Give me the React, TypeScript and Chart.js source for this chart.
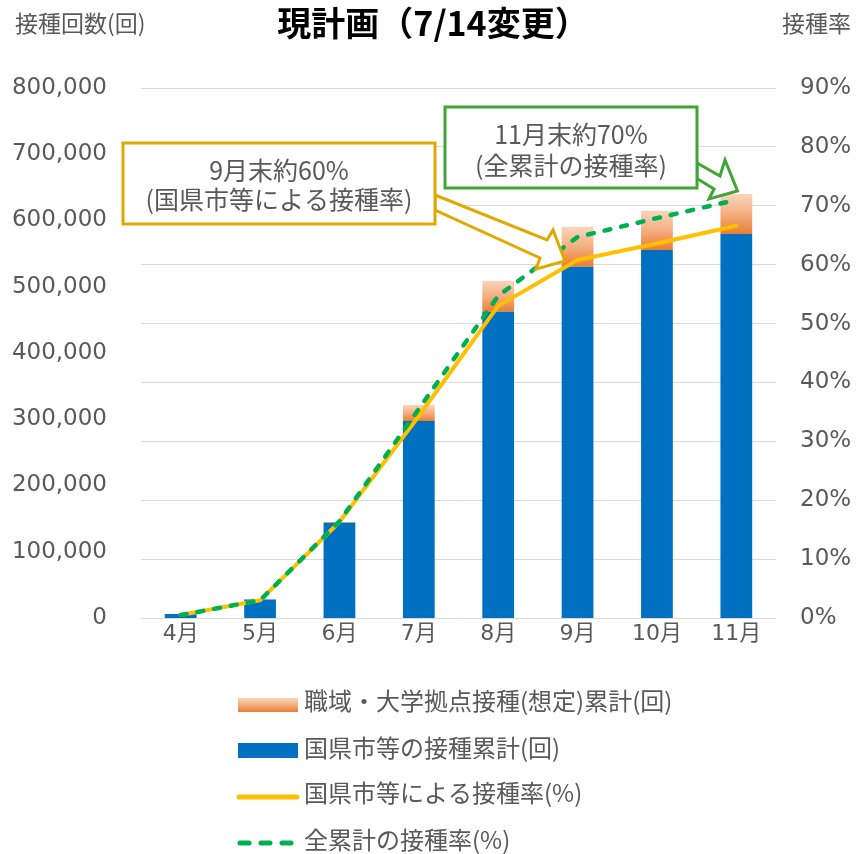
import React, { useEffect, useRef } from 'react';
import { Chart, registerables } from 'chart.js';

Chart.register(...registerables);

// ---------- data ----------
const categories = ['4月', '5月', '6月', '7月', '8月', '9月', '10月', '11月'];
const localCumulative = [6000, 28000, 143800, 297400, 462300, 530300, 555500, 579600];
const workplaceCumulative = [0, 0, 1000, 24100, 46800, 60300, 59300, 60400];
const localRate = [0.5, 3.0, 16.3, 34.3, 53.0, 60.8, 63.6, 66.6];
const totalRate = [0.5, 3.0, 16.4, 35.5, 54.7, 64.7, 67.9, 71.0];

const leftMax = 800000;
const leftStep = 100000;
const rightMax = 90;
const rightStep = 10;

const titleText = '現計画（7/14変更）';
const leftAxisTitle = '接種回数(回)';
const rightAxisTitle = '接種率';
const legendLabels = [
  '職域・大学拠点接種(想定)累計(回)',
  '国県市等の接種累計(回)',
  '国県市等による接種率(%)',
  '全累計の接種率(%)',
];
const calloutYellowLines = ['9月末約60%', '(国県市等による接種率)'];
const calloutGreenLines = ['11月末約70%', '(全累計の接種率)'];

// ---------- styles ----------
const BLUE = '#0070c0';
const YELLOW = '#ffc000';
const GREEN = '#00b050';
const GOLD = '#e0a800';
const BOX_GREEN = '#3fa535';
const TEXT = '#595959';
const GRID = '#d9d9d9';
const CJK = '"Noto Sans CJK JP", sans-serif';
const LATIN = '"DejaVu Sans", "Noto Sans CJK JP", sans-serif';

function orangeGradient(c: CanvasRenderingContext2D, top: number, bottom: number) {
  const g = c.createLinearGradient(0, top, 0, bottom);
  g.addColorStop(0, '#f9d6bd');
  g.addColorStop(0.5, '#f4ae80');
  g.addColorStop(1, '#ed7d31');
  return g;
}

function drawPoly(c: CanvasRenderingContext2D, pts: number[][], stroke: string) {
  c.save();
  c.beginPath();
  c.moveTo(pts[0][0], pts[0][1]);
  for (let i = 1; i < pts.length; i++) c.lineTo(pts[i][0], pts[i][1]);
  c.closePath();
  c.fillStyle = '#ffffff';
  c.fill();
  c.lineWidth = 3;
  c.lineJoin = 'miter';
  c.strokeStyle = stroke;
  c.stroke();
  c.restore();
}

function drawBox(
  c: CanvasRenderingContext2D,
  x: number, y: number, w: number, h: number,
  stroke: string, lines: string[], lineYs: number[]
) {
  c.save();
  c.fillStyle = '#ffffff';
  c.fillRect(x, y, w, h);
  c.lineWidth = 3;
  c.strokeStyle = stroke;
  c.strokeRect(x, y, w, h);
  c.fillStyle = TEXT;
  c.font = `25px ${CJK}`;
  c.textAlign = 'center';
  c.textBaseline = 'middle';
  lines.forEach((t, i) => c.fillText(t, x + w / 2, lineYs[i]));
  c.restore();
}

const decorPlugin = {
  id: 'decor',
  afterDraw(chart: any) {
    const c: CanvasRenderingContext2D = chart.ctx;
    c.save();
    // title
    c.fillStyle = '#000000';
    c.font = `bold 34px ${CJK}`;
    c.textAlign = 'center';
    c.textBaseline = 'middle';
    c.fillText(titleText, 433, 23);
    // axis titles
    c.fillStyle = TEXT;
    c.font = `23px ${CJK}`;
    c.textAlign = 'left';
    c.fillText(leftAxisTitle, 15, 23);
    c.fillText(rightAxisTitle, 782, 23);

    // yellow callout arrow + box
    drawPoly(c, [[435, 195], [547, 240], [553, 230], [565, 261], [536, 269], [540, 258], [435, 210]], GOLD);
    drawBox(c, 123, 143, 312, 81, GOLD, calloutYellowLines, [170, 199]);
    // green callout arrow + box
    drawPoly(c, [[697, 163], [720, 176], [725, 160], [737.5, 191], [709, 199], [714, 189], [697, 178.5]], BOX_GREEN);
    drawBox(c, 445, 107, 252, 81, BOX_GREEN, calloutGreenLines, [134, 165]);

    // legend
    const sx = 238, sw = 60, tx = 304;
    const rowY = [701, 748, 793, 840];
    c.fillStyle = orangeGradient(c, 698, 712);
    c.fillRect(sx, 698, sw, 14);
    c.fillStyle = BLUE;
    c.fillRect(sx, 743, sw, 15);
    c.lineCap = 'round';
    c.lineWidth = 5;
    c.strokeStyle = YELLOW;
    c.beginPath();
    c.moveTo(sx + 1, 797);
    c.lineTo(sx + sw - 1, 797);
    c.stroke();
    c.strokeStyle = GREEN;
    c.setLineDash([9, 12]);
    c.beginPath();
    c.moveTo(sx + 2, 843);
    c.lineTo(sx + sw - 4, 843);
    c.stroke();
    c.setLineDash([]);
    c.fillStyle = TEXT;
    c.font = `24px ${CJK}`;
    c.textAlign = 'left';
    c.textBaseline = 'middle';
    legendLabels.forEach((t, i) => c.fillText(t, tx, rowY[i]));
    c.restore();
  },
};

export default function App() {
  const ref = useRef<HTMLCanvasElement | null>(null);

  useEffect(() => {
    if (!ref.current) return;
    const chart = new Chart(ref.current, {
      type: 'bar',
      data: {
        labels: categories,
        datasets: [
          {
            type: 'line',
            label: legendLabels[3],
            data: totalRate,
            yAxisID: 'y1',
            borderColor: GREEN,
            borderWidth: 4.5,
            borderDash: [6, 11],
            borderCapStyle: 'round',
            borderJoinStyle: 'round',
            pointRadius: 0,
            fill: false,
            tension: 0,
            order: 0,
          } as any,
          {
            type: 'line',
            label: legendLabels[2],
            data: localRate,
            yAxisID: 'y1',
            borderColor: YELLOW,
            borderWidth: 4,
            borderJoinStyle: 'round',
            borderCapStyle: 'round',
            pointRadius: 0,
            fill: false,
            tension: 0,
            order: 1,
          } as any,
          {
            type: 'bar',
            label: legendLabels[1],
            data: localCumulative,
            yAxisID: 'y',
            backgroundColor: BLUE,
            stack: 'bars',
            categoryPercentage: 1,
            barPercentage: 0.4,
            order: 3,
          },
          {
            type: 'bar',
            label: legendLabels[0],
            data: workplaceCumulative,
            yAxisID: 'y',
            stack: 'bars',
            categoryPercentage: 1,
            barPercentage: 0.4,
            order: 4,
            backgroundColor: (ctx: any) => {
              const ch = ctx.chart;
              const ys = ch.scales && ch.scales.y;
              if (!ys || ctx.dataIndex === undefined) return '#f4b183';
              const i = ctx.dataIndex;
              const top = ys.getPixelForValue(localCumulative[i] + workplaceCumulative[i]);
              const bottom = ys.getPixelForValue(localCumulative[i]);
              if (!(bottom > top)) return '#ed7d31';
              return orangeGradient(ch.ctx, top, bottom);
            },
          },
        ],
      },
      options: {
        animation: false,
        responsive: true,
        maintainAspectRatio: false,
        layout: { padding: { top: 88, bottom: 196, left: 0, right: 0 } },
        plugins: {
          legend: { display: false },
          tooltip: { enabled: false },
          title: { display: false },
        },
        scales: {
          x: {
            stacked: true,
            grid: { display: false, drawTicks: false },
            border: { display: false },
            ticks: {
              color: TEXT,
              font: { family: LATIN, size: 22 },
              padding: 3,
            },
            afterFit: (s: any) => { s.height = 40; },
          },
          y: {
            stacked: true,
            position: 'left',
            min: 0,
            max: leftMax,
            grid: { display: false, drawTicks: false },
            border: { display: false },
            ticks: {
              stepSize: leftStep,
              color: TEXT,
              font: { family: LATIN, size: 23 },
              padding: 34,
              callback: (v: any) => Number(v).toLocaleString('en-US'),
            },
            afterFit: (s: any) => { s.width = 141; },
          },
          y1: {
            stacked: false,
            position: 'right',
            min: 0,
            max: rightMax,
            grid: { color: GRID, lineWidth: 1, drawTicks: false },
            border: { display: false },
            ticks: {
              stepSize: rightStep,
              color: TEXT,
              font: { family: LATIN, size: 23 },
              padding: 24,
              callback: (v: any) => `${v}%`,
            },
            afterFit: (s: any) => { s.width = 81; },
          },
        },
      },
      plugins: [decorPlugin],
    });
    return () => chart.destroy();
  }, []);

  return (
    <div style={{ position: 'absolute', left: 0, top: 0, width: 857, height: 854, background: '#ffffff' }}>
      <canvas ref={ref} />
    </div>
  );
}
